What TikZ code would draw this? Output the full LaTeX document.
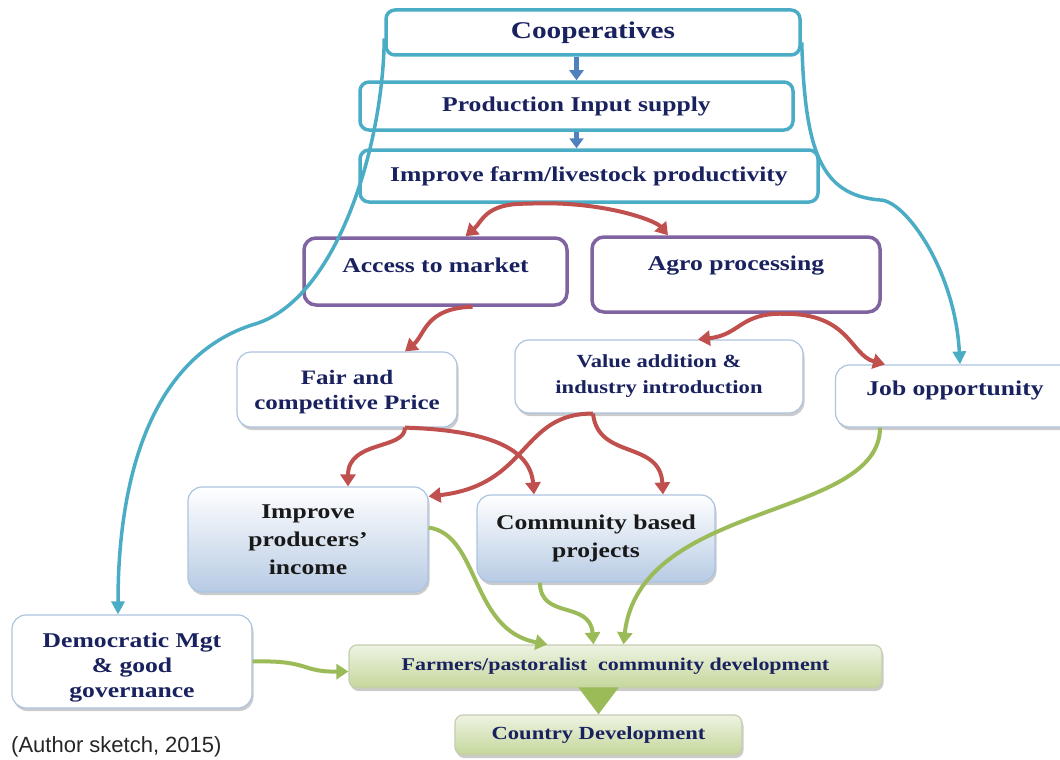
\documentclass[tikz,border=0pt]{standalone}
\usepackage{fontspec}
\setmainfont{Liberation Serif}[FakeStretch=1.22]
\newfontfamily\captionfont{Liberation Sans}
\usetikzlibrary{arrows.meta,shadows}
\definecolor{coopcyan}{RGB}{75,172,198}
\definecolor{mktpurple}{RGB}{128,100,162}
\definecolor{flowred}{RGB}{192,80,77}
\definecolor{devgreen}{RGB}{155,187,89}
\definecolor{inblue}{RGB}{79,129,189}
\definecolor{softline}{RGB}{172,196,224}
\definecolor{gradblue}{RGB}{183,203,228}
\definecolor{gradgreen}{RGB}{196,215,155}
\definecolor{palegreen}{RGB}{238,243,226}
\definecolor{navy}{RGB}{25,33,95}

\begin{document}
\begin{tikzpicture}[x=1pt,y=-1pt]
    \tikzstyle{cyanbox}=[draw=coopcyan, line width=3.5pt, rounded corners=9pt, fill=white, text=navy, font=\fontsize{21}{26}\selectfont\bfseries]
    \tikzstyle{purplebox}=[draw=mktpurple, line width=3.5pt, rounded corners=12pt, fill=white, text=navy, font=\fontsize{21}{26}\selectfont\bfseries]
    \tikzstyle{softbox}=[draw=softline, line width=1.2pt, rounded corners=14pt, fill=white, align=center, text=navy,
                         drop shadow={shadow xshift=1.5pt, shadow yshift=-3pt, fill=black!45, opacity=0.45},
                         font=\fontsize{21}{27}\selectfont\bfseries]
    \tikzstyle{bluegrad}=[softbox, top color=white, bottom color=gradblue, text=black!90]
    \tikzstyle{greengrad}=[softbox, draw=gradgreen!80!black!60, rounded corners=8pt, top color=palegreen, bottom color=gradgreen,
                           font=\fontsize{18}{22}\selectfont\bfseries]
    \tikzstyle{inarrow}=[inblue, line width=4.5pt, -{Triangle[width=14pt,length=10pt]}]
    \tikzstyle{redarrow}=[flowred, line width=4pt, -{Triangle[width=15pt,length=12pt]}]
    \tikzstyle{greenarrow}=[devgreen, line width=4pt, -{Triangle[width=15pt,length=12pt]}]
    \tikzstyle{cyanarrow}=[coopcyan, line width=3.5pt, -{Triangle[width=13pt,length=13pt]}]

    \useasboundingbox (0,0) rectangle (1060,760);

    % top chain
    \node[cyanbox, minimum width=414pt, minimum height=45pt, font=\fontsize{24}{28}\selectfont\bfseries] (coop) at (593,32.5) {Cooperatives};
    \node[cyanbox, minimum width=433pt, minimum height=48pt] (prod) at (576.5,106) {Production Input supply};
    \node[cyanbox, minimum width=458pt, minimum height=52pt] (farm) at (589,176) {Improve farm/livestock productivity};

    \node[purplebox, minimum width=263pt, minimum height=67pt, text depth=13pt] (acc) at (435.5,271.5) {Access to market};
    \node[purplebox, minimum width=288pt, minimum height=75pt, text depth=23pt] (agro) at (736,274.5) {Agro processing};

    \node[softbox, minimum width=220pt, minimum height=75pt, font=\fontsize{20.5}{25}\selectfont\bfseries] (fair) at (347,389.5) {\rule{0pt}{19pt}Fair and\\competitive Price};
    \node[softbox, minimum width=288pt, minimum height=73pt, font=\fontsize{18.5}{26}\selectfont\bfseries] (value) at (659,376.5) {Value addition \&\\industry introduction};
    \node[softbox, minimum width=239pt, minimum height=62pt, text depth=16pt] (job) at (955,396) {Job opportunity};

    \node[bluegrad, minimum width=240pt, minimum height=105pt, font=\fontsize{21}{28}\selectfont\bfseries] (prodinc) at (308,539.5) {Improve\\producers’\\income};
    \node[bluegrad, minimum width=238pt, minimum height=87pt, font=\fontsize{21}{28}\selectfont\bfseries] (comm) at (596,538.5) {Community based\\projects};

    \node[softbox, minimum width=240pt, minimum height=93pt, font=\fontsize{21}{25}\selectfont\bfseries] (demo) at (132,661.5) {\rule{0pt}{26pt}Democratic Mgt\\\& good\\governance};
    \node[greengrad, minimum width=533pt, minimum height=43pt] (farmers) at (615.5,666.5) {Farmers/pastoralist\ \ community development};
    \node[greengrad, minimum width=287pt, minimum height=40pt, font=\fontsize{18.5}{22}\selectfont\bfseries] (country) at (598.5,735) {Country Development};

    \node[font=\captionfont\fontsize{22}{26}\selectfont, text=black!85, anchor=west, inner sep=0pt] (src) at (11,747) {(Author sketch, 2015)};

    % input arrows
    \draw[inarrow] (prod.north |- coop.south) -- (prod.north);
    \draw[inarrow] (prod.south) -- (prod.south |- farm.north);

    % market and processing
    \draw[redarrow] ([xshift=-62pt]farm.south) .. controls (485,203) and (482,222) .. ([xshift=30pt]acc.north);
    \draw[redarrow] ([xshift=-62pt]farm.south) .. controls (600,200) and (655,220) .. ([xshift=-68pt]agro.north);
    \draw[redarrow] ([xshift=37pt]acc.south) .. controls (425,308) and (425,335) .. ([xshift=58pt]fair.north);
    \draw[redarrow] ([xshift=47pt]agro.south) .. controls (740,313) and (740,335) .. ([xshift=39pt]value.north);
    \draw[redarrow] ([xshift=47pt]agro.south) .. controls (850,313) and (850,355) .. ([xshift=-70pt]job.north);
    \draw[redarrow] ([xshift=58pt]fair.south) .. controls (405,450) and (348,440) .. ([xshift=40pt]prodinc.north);
    \draw[redarrow] ([xshift=58pt]fair.south) .. controls (480,430) and (530,445) .. ([xshift=-62pt]comm.north);
    \draw[redarrow] ([xshift=-66pt]value.south) .. controls (520,413) and (530,485) .. ([yshift=-10pt]prodinc.north east);
    \draw[redarrow] ([xshift=-66pt]value.south) .. controls (598,460) and (660,440) .. ([xshift=67pt]comm.north);

    % governance and jobs
    \draw[cyanarrow] ([yshift=-6pt]coop.west) .. controls (383,150) and (335,300) .. (255,324)
                                               .. controls (150,356) and (118,480) .. ([xshift=-14pt]demo.north);
    \draw[cyanarrow] ([yshift=-10pt]coop.east) .. controls (805,150) and (820,195) .. (880,200)
                                               .. controls (905,200) and (955,270) .. ([xshift=5pt]job.north);

    % development
    \draw[greenarrow] ([yshift=12pt]prodinc.east) .. controls (480,535) and (470,630) .. ([xshift=-68pt]farmers.north);
    \draw[greenarrow] ([xshift=-56pt]comm.south) .. controls (540,620) and (590,600) .. ([xshift=-22pt]farmers.north);
    \draw[greenarrow] ([xshift=-75pt]job.south) .. controls (880,520) and (640,500) .. ([xshift=8pt]farmers.north);
    \draw[greenarrow] (demo.east) .. controls (310,660) and (300,672) .. ([yshift=-5pt]farmers.west);
    \draw[devgreen, line width=2pt, -{Triangle[width=40pt,length=27pt]}] (farmers.south -| country.north) -- (country.north);

\end{tikzpicture}
\end{document}
